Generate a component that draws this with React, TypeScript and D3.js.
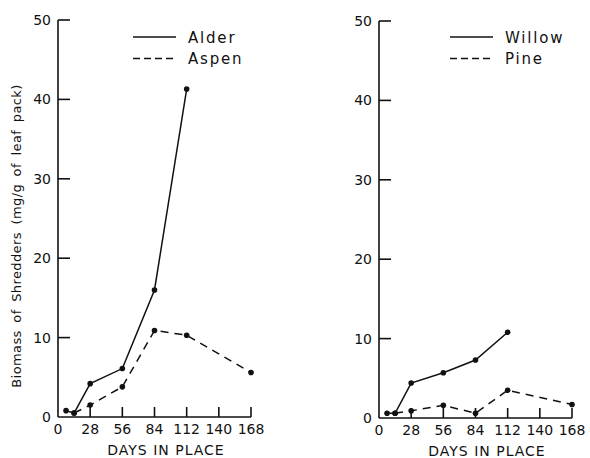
import React from "react";
import * as d3 from "d3";

// values (days in place vs. mg/g of leaf pack)
const dayTicks = [0, 28, 56, 84, 112, 140, 168];
const biomassTicks = [0, 10, 20, 30, 40, 50];

const alderDays = [7, 14, 28, 56, 84, 112];
const alderValues = [0.8, 0.5, 4.2, 6.1, 16.0, 41.3];
const aspenDays = [14, 28, 56, 84, 112, 168];
const aspenValues = [0.5, 1.5, 3.8, 10.9, 10.3, 5.6];

const willowDays = [7, 14, 28, 56, 84, 112];
const willowValues = [0.6, 0.6, 4.4, 5.7, 7.3, 10.8];
const pineDays = [14, 28, 56, 84, 112, 168];
const pineValues = [0.6, 0.9, 1.6, 0.6, 3.5, 1.7];

const FONT = "'DejaVu Sans', sans-serif";
const INK = "#111";

type Series = { name: string; days: number[]; values: number[]; dash?: string };

const Panel = ({ x0, y0, series, legendX, yTitle }: {
  x0: number; y0: number; series: Series[]; legendX: number; yTitle?: boolean;
}) => {
  const x = d3.scaleLinear().domain([0, 168]).range([x0, x0 + 193]);
  const y = d3.scaleLinear().domain([0, 50]).range([y0, y0 - 397]);
  const line = d3.line<[number, number]>().x(d => x(d[0])).y(d => y(d[1]));

  return (
    <g>
      {/* axes */}
      <line x1={x0} x2={x0} y1={y(0)} y2={y(50)} stroke={INK} strokeWidth={1.6} />
      <line x1={x0} x2={x(168)} y1={y(0)} y2={y(0)} stroke={INK} strokeWidth={1.6} />
      {biomassTicks.filter(t => t > 0).map(t => (
        <line key={"yt" + t} x1={x0} x2={x0 + 12} y1={y(t)} y2={y(t)} stroke={INK} strokeWidth={1.6} />
      ))}
      {biomassTicks.map(t => (
        <text key={"yl" + t} x={x0 - 7} y={y(t) + 5} textAnchor="end"
          fontFamily={FONT} fontSize={14} fill={INK}>{t}</text>
      ))}
      {dayTicks.filter(t => t > 0).map(t => (
        <line key={"xt" + t} x1={x(t)} x2={x(t)} y1={y(0)} y2={y(0) - 10} stroke={INK} strokeWidth={1.6} />
      ))}
      {dayTicks.map(t => (
        <text key={"xl" + t} x={x(t)} y={y(0) + 17} textAnchor="middle"
          fontFamily={FONT} fontSize={14} fill={INK}>{t}</text>
      ))}
      <text x={x(94)} y={y(0) + 38} textAnchor="middle" fontFamily={FONT}
        fontSize={14} letterSpacing={1} fill={INK}>DAYS IN PLACE</text>
      {yTitle && (
        <text transform={`translate(21, 236) rotate(-90)`} textAnchor="middle"
          fontFamily={FONT} fontSize={13} letterSpacing={0.4} wordSpacing={3} fill={INK}>
          Biomass of Shredders (mg/g of leaf pack)
        </text>
      )}

      {/* data */}
      {series.map(s => {
        const pts = s.days.map((d, i) => [d, s.values[i]] as [number, number]);
        return (
          <g key={s.name}>
            <path d={line(pts) ?? ""} fill="none" stroke={INK} strokeWidth={1.5}
              strokeDasharray={s.dash} />
            {pts.map((p, i) => (
              <circle key={i} cx={x(p[0])} cy={y(p[1])} r={2.8} fill={INK} />
            ))}
          </g>
        );
      })}

      {/* legend */}
      {series.map((s, i) => (
        <g key={"lg" + s.name} transform={`translate(${legendX}, ${37 + i * 21.5})`}>
          <line x1={0} x2={43} y1={0} y2={0} stroke={INK} strokeWidth={1.5}
            strokeDasharray={s.dash ? "7,4" : undefined} />
          <text x={55} y={5.5} fontFamily={FONT} fontSize={15} letterSpacing={1.8} fill={INK}>
            {s.name}
          </text>
        </g>
      ))}
    </g>
  );
};

export default function App() {
  return (
    <svg width={590} height={458} style={{ position: "absolute", left: 0, top: 0, background: "#fff" }}>
      <Panel x0={58} y0={417} legendX={133} yTitle series={[
        { name: "Alder", days: alderDays, values: alderValues },
        { name: "Aspen", days: aspenDays, values: aspenValues, dash: "8,6" },
      ]} />
      <Panel x0={379} y0={418} legendX={450} series={[
        { name: "Willow", days: willowDays, values: willowValues },
        { name: "Pine", days: pineDays, values: pineValues, dash: "8,6" },
      ]} />
    </svg>
  );
}
